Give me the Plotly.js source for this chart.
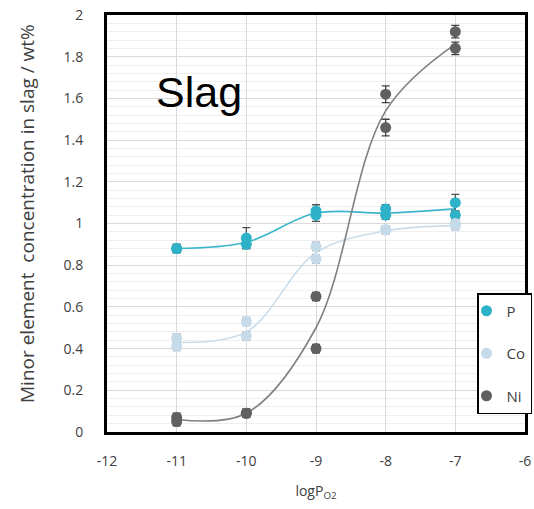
<!DOCTYPE html>
<html><head><meta charset="utf-8">
<script src="https://cdn.plot.ly/plotly-3.0.1.min.js"></script>
<style>html,body{margin:0;padding:0;background:#fff}#chart{width:534px;height:509px}</style>
</head><body><div id="chart"></div>
<script>
// Measured points (two runs per logPO2)
const xPts = [-11,-11,-10,-10,-9,-9,-8,-8,-7,-7];
const pVals = [0.88,0.88,0.93,0.90,1.06,1.04,1.07,1.04,1.10,1.04];
const pErr  = [0.02,0.02,0.05,0.02,0.03,0.03,0.02,0.02,0.04,0.02];
const coVals = [0.45,0.41,0.53,0.46,0.89,0.83,0.97,0.97,1.00,0.99];
const coErr  = [0.02,0.02,0.02,0.02,0.02,0.02,0.02,0.02,0.02,0.02];
const niVals = [0.07,0.05,0.09,0.09,0.65,0.40,1.62,1.46,1.92,1.84];
const niErr  = [0.02,0.02,0.02,0.02,0.02,0.02,0.04,0.04,0.03,0.03];
// Smoothed trend lines
const xFit = [-11,-10,-9,-8,-7];
const pFit = [0.88,0.91,1.05,1.05,1.07];
const coFit = [0.43,0.48,0.86,0.965,0.99];
const niFit = [0.06,0.09,0.50,1.54,1.86];
const xTicks = [-12,-11,-10,-9,-8,-7,-6];

const cP='#2eb2c8', cCo='#c6dbea', cNi='#606060';
function line(y,color){return {x:xFit,y:y,mode:'lines',line:{shape:'spline',smoothing:1,color:color,width:1.6},showlegend:false,hoverinfo:'skip'};}
function pts(y,e,color,name,ec){return {x:xPts,y:y,name:name,legendgroup:name,mode:'markers',marker:{color:color,size:11},
  error_y:{type:'data',array:e,visible:true,color:ec,thickness:1.3,width:4}};}
const data=[line(pFit,'#3cb6cc'),line(coFit,'#c8dcea'),line(niFit,'#808080'),
  pts(pVals,pErr,cP,'P','#505050'),pts(coVals,coErr,cCo,'Co','#9a9a9a'),pts(niVals,niErr,cNi,'Ni','#404040')];
const layout={width:534,height:509,margin:{l:107,r:9,t:15,b:77,autoexpand:false},paper_bgcolor:'#fff',plot_bgcolor:'#fff',
  font:{family:'Open Sans, sans-serif',color:'#404040'},
  xaxis:{range:[-12,-6],tickvals:xTicks,ticktext:xTicks.map(String),showgrid:true,gridcolor:'#d9d9d9',gridwidth:1,
    zeroline:false,showline:true,mirror:true,linecolor:'#000',linewidth:3,ticks:'',ticklabelstandoff:14,tickfont:{size:14,color:'#404040'},
    title:{text:'logP<sub>O2</sub>',font:{size:14,color:'#404040'},standoff:18}},
  yaxis:{range:[0,2],dtick:0.2,showgrid:true,gridcolor:'#d9d9d9',gridwidth:1,
    minor:{dtick:0.04,showgrid:true,gridcolor:'#efefef',gridwidth:1},
    zeroline:false,showline:true,mirror:true,linecolor:'#000',linewidth:3,ticks:'',ticklabelstandoff:18,tickfont:{size:14,color:'#404040'}},
  legend:{x:477/534,xanchor:'left',y:(509-293)/509,yanchor:'top',xref:'container',yref:'container',bgcolor:'#fff',bordercolor:'#000',borderwidth:1.5,
    font:{size:15,color:'#404040'},tracegroupgap:20,itemwidth:30,indentation:-12,entrywidth:70},
  annotations:[
    {x:-11.33,y:1.63,xref:'x',yref:'y',xanchor:'left',yanchor:'middle',text:'Slag',showarrow:false,font:{family:'Liberation Sans, Arial',size:43,color:'#000'}},
    {x:-80/418,y:(432-214)/417,xref:'paper',yref:'paper',xanchor:'center',yanchor:'middle',textangle:-90,showarrow:false,
     text:'Minor element  concentration in slag / wt%',font:{size:19,color:'#404040'}}
  ]
};
Plotly.newPlot('chart',data,layout,{displayModeBar:false,staticPlot:true});
</script></body></html>
